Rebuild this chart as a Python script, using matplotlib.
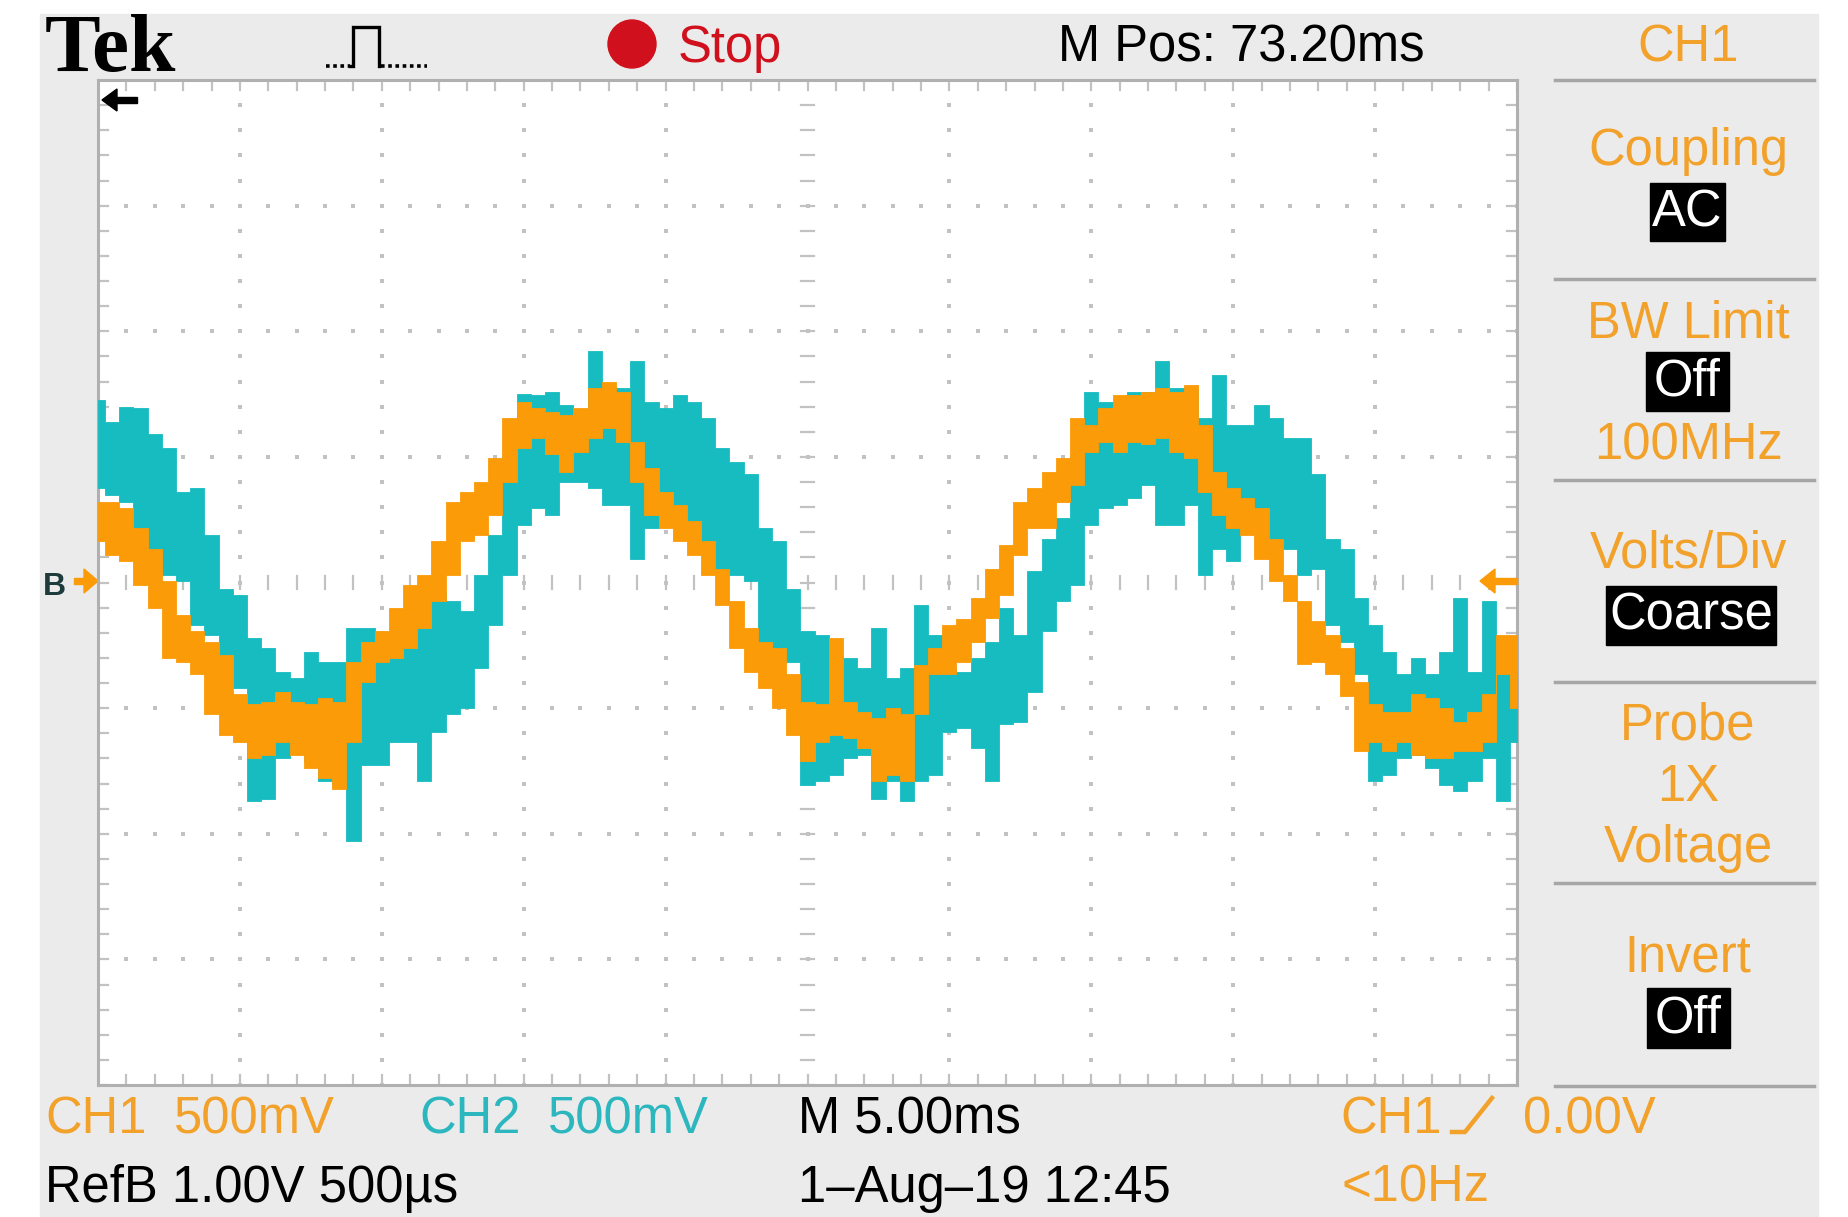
import numpy as np
import matplotlib
matplotlib.use("Agg")
import matplotlib.pyplot as plt
from matplotlib.patches import Rectangle, Circle, Polygon

# ---------------------------------------------------------------------------
# Captured waveform envelopes (screen divisions, 500 mV/div, 5 ms/div).
# One sample every 0.1 div across the 10-division screen.
# ---------------------------------------------------------------------------
t_div = np.round(np.arange(101) * 0.1, 1)

ch1_upper = [0.64, 0.64, 0.59, 0.43, 0.27, 0.01, -0.26, -0.39, -0.47, -0.58,
             -0.89, -0.97, -0.95, -0.87, -0.95, -0.97, -0.92, -0.95, -0.63, -0.47,
             -0.39, -0.20, -0.02, 0.06, 0.33, 0.64, 0.72, 0.80, 0.99, 1.31,
             1.44, 1.39, 1.36, 1.33, 1.39, 1.55, 1.60, 1.52, 1.12, 0.91,
             0.72, 0.62, 0.49, 0.33, 0.11, -0.15, -0.36, -0.47, -0.52, -0.73,
             -0.95, -0.97, -0.44, -0.95, -1.03, -1.08, -1.00, -1.05, -0.66, -0.52,
             -0.34, -0.29, -0.12, 0.11, 0.30, 0.64, 0.75, 0.88, 0.99, 1.31,
             1.25, 1.39, 1.49, 1.49, 1.52, 1.55, 1.52, 1.57, 1.25, 0.88,
             0.75, 0.67, 0.59, 0.35, 0.06, -0.15, -0.31, -0.42, -0.52, -0.79,
             -0.97, -1.03, -1.03, -0.89, -0.92, -1.00, -1.11, -1.03, -0.89, -0.42,
             -0.42]
ch1_lower = [0.33, 0.22, 0.17, -0.02, -0.20, -0.60, -0.63, -0.73, -1.05, -1.21,
             -1.27, -1.40, -1.37, -1.27, -1.37, -1.48, -1.56, -1.64, -1.27, -0.79,
             -0.63, -0.60, -0.52, -0.36, -0.15, 0.06, 0.33, 0.38, 0.54, 0.80,
             1.07, 1.15, 1.02, 0.88, 1.04, 1.15, 1.23, 1.12, 0.80, 0.54,
             0.43, 0.33, 0.22, 0.06, -0.18, -0.52, -0.71, -0.84, -1.00, -1.21,
             -1.42, -1.27, -1.21, -1.24, -1.32, -1.58, -1.53, -1.58, -1.05, -0.73,
             -0.73, -0.63, -0.47, -0.28, -0.10, 0.22, 0.43, 0.43, 0.64, 0.78,
             1.04, 1.12, 1.04, 1.12, 1.10, 1.15, 1.04, 0.99, 0.72, 0.54,
             0.43, 0.38, 0.19, 0.01, -0.15, -0.65, -0.63, -0.73, -0.90, -1.34,
             -1.27, -1.34, -1.27, -1.37, -1.40, -1.40, -1.34, -1.34, -1.27, -0.73,
             -1.00]

ch2_upper = [1.45, 1.28, 1.40, 1.39, 1.18, 1.07, 0.72, 0.75, 0.38, -0.05,
             -0.10, -0.44, -0.52, -0.71, -0.76, -0.55, -0.63, -0.63, -0.36, -0.36,
             -0.63, -0.60, -0.47, -0.36, -0.07, -0.15, -0.23, 0.06, 0.38, 1.00,
             1.50, 1.49, 1.52, 1.41, 1.36, 1.84, 1.49, 1.55, 1.76, 1.44,
             1.39, 1.49, 1.44, 1.31, 1.07, 0.96, 0.86, 0.43, 0.33, -0.05,
             -0.39, -0.42, -0.58, -0.60, -0.68, -0.36, -0.76, -0.68, -0.18, -0.42,
             -0.68, -0.71, -0.60, -0.47, -0.20, -0.42, 0.09, 0.35, 0.51, 1.00,
             1.52, 1.44, 1.44, 1.52, 1.52, 1.76, 1.55, 1.55, 1.31, 1.65,
             1.25, 1.25, 1.41, 1.31, 1.15, 1.15, 0.86, 0.35, 0.27, -0.12,
             -0.34, -0.55, -0.73, -0.60, -0.73, -0.55, -0.12, -0.71, -0.15, -0.47,
             -0.73]
ch2_lower = [0.75, 0.70, 0.64, 0.38, 0.11, 0.06, 0.01, -0.34, -0.42, -0.60,
             -0.84, -1.74, -1.72, -1.40, -1.32, -1.42, -1.58, -1.61, -2.06, -1.45,
             -1.45, -1.27, -1.27, -1.58, -1.19, -1.05, -1.00, -0.68, -0.34, 0.06,
             0.46, 0.59, 0.54, 0.80, 0.80, 0.75, 0.62, 0.62, 0.19, 0.43,
             0.70, 0.59, 0.49, 0.27, 0.11, 0.06, 0.01, -0.47, -0.60, -0.63,
             -1.61, -1.58, -1.53, -1.40, -1.37, -1.72, -1.58, -1.74, -1.58, -1.53,
             -1.19, -1.16, -1.32, -1.58, -1.13, -1.11, -0.87, -0.39, -0.15, -0.02,
             0.46, 0.59, 0.62, 0.67, 0.78, 0.46, 0.46, 0.62, 0.06, 0.27,
             0.17, 0.43, 0.59, 0.33, 0.27, 0.06, 0.11, -0.34, -0.47, -0.73,
             -1.58, -1.53, -1.40, -1.37, -1.48, -1.61, -1.66, -1.58, -1.40, -1.74,
             -1.27]

# Screen readouts
top_readouts = {"brand": "Tek", "state": "Stop", "mpos": "M Pos: 73.20ms", "menu": "CH1"}
bottom_row1 = ["CH1", "500mV", "CH2", "500mV", "M 5.00ms", "CH1", "0.00V"]
bottom_row2 = ["RefB 1.00V 500µs", "1–Aug–19 12:45", "<10Hz"]
menu_titles = ["Coupling", "BW Limit", "Volts/Div", "Probe", "Invert"]
menu_values = ["AC", "Off", "Coarse", "Off"]
menu_notes = ["100MHz", "1X", "Voltage"]

# ---------------------------------------------------------------------------
ORANGE = "#fb9b08"
CYAN = "#17bcc0"
TXT_OR = "#f2a12a"
TXT_CY = "#2cb7bf"
RED = "#d0101c"
BG = "#ebebeb"
GRID = "#c2c2c2"
EDGE = "#b0b0b0"
FONT = ["Liberation Sans", "DejaVu Sans"]
FS = 36.5

W, H = 1849, 1217
fig = plt.figure(figsize=(W / 100, H / 100), dpi=100)
fig.patch.set_facecolor("white")

# background / annotation layer in pixel units (y downward)
ov = fig.add_axes([0, 0, 1, 1])
ov.set_xlim(0, W)
ov.set_ylim(H, 0)
ov.axis("off")
ov.add_patch(Rectangle((40, 14), 1778, H - 14, color=BG, zorder=0))


def txt(x, y, s, color="black", size=FS, ha="left", family=FONT, weight="normal", axes=ov):
    axes.text(x, y, s, color=color, fontsize=size, ha=ha, va="baseline",
              family=family, fontweight=weight, zorder=5)


# top row
txt(45, 71, top_readouts["brand"], size=60, family=["Liberation Serif", "DejaVu Serif"],
    weight="bold")
# acquisition pulse icon
ov.plot([326, 350], [66, 66], color="black", lw=2.6, ls=(0, (1, 1)), zorder=5)
ov.plot([350, 353, 353, 379, 379], [66, 66, 27, 27, 66], color="black", lw=2.4,
        solid_joinstyle="miter", zorder=5)
ov.plot([381, 427], [66, 66], color="black", lw=2.6, ls=(0, (1, 1)), zorder=5)
ov.add_patch(Circle((632, 44), 24, color=RED, zorder=5))
txt(678, 62, top_readouts["state"], color=RED)
txt(1058, 62, top_readouts["mpos"])
txt(1688, 61, top_readouts["menu"], color=TXT_OR, ha="center")

# side menu
for ys in [80, 279, 480, 682, 883, 1086]:
    ov.plot([1555, 1814], [ys, ys], color="#a6a6a6", lw=2.5, zorder=4)

title_y = [165, 338, 567, 740, 972]
for s, y in zip(menu_titles, title_y):
    txt(1688, y, s, color=TXT_OR, ha="center")
note_y = [459, 801, 862]
for s, y in zip(menu_notes, note_y):
    txt(1688, y, s, color=TXT_OR, ha="center")

boxes = [(1650, 183, 75, 58), (1646, 352, 83, 59), (1606, 586, 170, 59), (1647, 988, 83, 60)]
for s, (bx, by, bw, bh) in zip(menu_values, boxes):
    ov.add_patch(Rectangle((bx, by), bw, bh, color="black", zorder=5))
    ov.text(bx + bw / 2, by + bh / 2 + 1, s, color="white", fontsize=FS, ha="center",
            va="center", family=FONT, zorder=6)

# bottom rows
txt(45, 1133, bottom_row1[0], color=TXT_OR)
txt(174, 1133, bottom_row1[1], color=TXT_OR)
txt(419, 1133, bottom_row1[2], color=TXT_CY)
txt(548, 1133, bottom_row1[3], color=TXT_CY)
txt(798, 1133, bottom_row1[4])
txt(1340, 1133, bottom_row1[5], color=TXT_OR)
ov.plot([1452, 1465, 1492], [1132, 1132, 1098], color=TXT_OR, lw=3.2, zorder=5)
txt(1523, 1133, bottom_row1[6], color=TXT_OR)
txt(45, 1202, bottom_row2[0])
txt(798, 1202, bottom_row2[1])
txt(1342, 1202, bottom_row2[2], color=TXT_OR)

# left-side markers
txt(43, 595, "B", color="#1d3b3b", size=23, weight="bold")
ov.add_patch(Polygon([[84, 569], [98, 581], [84, 593]], closed=True, color=ORANGE, zorder=5))
ov.add_patch(Rectangle((74, 578), 12, 6, color=ORANGE, zorder=5))

# ---------------------------------------------------------------------------
# graticule
x0, x1, y0, y1 = 98, 1517, 80, 1085
ax = fig.add_axes([x0 / W, 1 - y1 / H, (x1 - x0) / W, (y1 - y0) / H])
ax.set_facecolor("white")
ax.set_xlim(0, 10)
ax.set_ylim(-4, 4)
ax.set_xticks([])
ax.set_yticks([])
for sp in ax.spines.values():
    sp.set_color(EDGE)
    sp.set_linewidth(2.2)

minor_x = np.round(np.arange(0, 10.001, 0.2), 1)
minor_y = np.round(np.arange(-4, 4.001, 0.2), 1)
for xi in range(1, 10):
    if xi == 5:
        continue
    ax.plot(np.full_like(minor_y, xi), minor_y, ls="none", marker="s", ms=2.2,
            mew=0, color=GRID, zorder=1)
for yi in range(-3, 4):
    if yi == 0:
        continue
    ax.plot(minor_x, np.full_like(minor_x, yi), ls="none", marker="s", ms=2.2,
            mew=0, color=GRID, zorder=1)

tick_kw = dict(color=GRID, lw=1.6, zorder=1)
hx, hy = 0.045, 0.05
for xv in minor_x:
    ax.plot([xv, xv], [-hy, hy], **tick_kw)
    ax.plot([xv, xv], [4, 4 - 1.6 * hy], **tick_kw)
    ax.plot([xv, xv], [-4, -4 + 1.6 * hy], **tick_kw)
for yv in minor_y:
    ax.plot([5 - hx, 5 + hx], [yv, yv], **tick_kw)
    ax.plot([0, 1.6 * hx], [yv, yv], **tick_kw)
    ax.plot([10, 10 - 1.6 * hx], [yv, yv], **tick_kw)

# traces (CH1 drawn over CH2), sample-and-hold columns like the scope display
ax.fill_between(t_div, ch2_lower, ch2_upper, step="mid", color=CYAN, lw=0.6,
                edgecolor=CYAN, zorder=3)
ax.fill_between(t_div, ch1_lower, ch1_upper, step="mid", color=ORANGE, lw=0.6,
                edgecolor=ORANGE, zorder=4)

# ---------------------------------------------------------------------------
# markers drawn over the graticule
top = fig.add_axes([0, 0, 1, 1])
top.set_xlim(0, W)
top.set_ylim(H, 0)
top.axis("off")
top.patch.set_alpha(0)
# trigger position arrow
top.add_patch(Polygon([[102, 100], [117, 89], [117, 111]], closed=True, color="black", zorder=6))
top.add_patch(Rectangle((115, 97), 22, 6, color="black", zorder=6))
# trigger level marker
top.add_patch(Polygon([[1480, 581], [1495, 569], [1495, 593]], closed=True, color=ORANGE, zorder=6))
top.add_patch(Rectangle((1493, 578), 24, 6, color=ORANGE, zorder=6))

fig.savefig("out.png", dpi=100, facecolor=fig.get_facecolor())
